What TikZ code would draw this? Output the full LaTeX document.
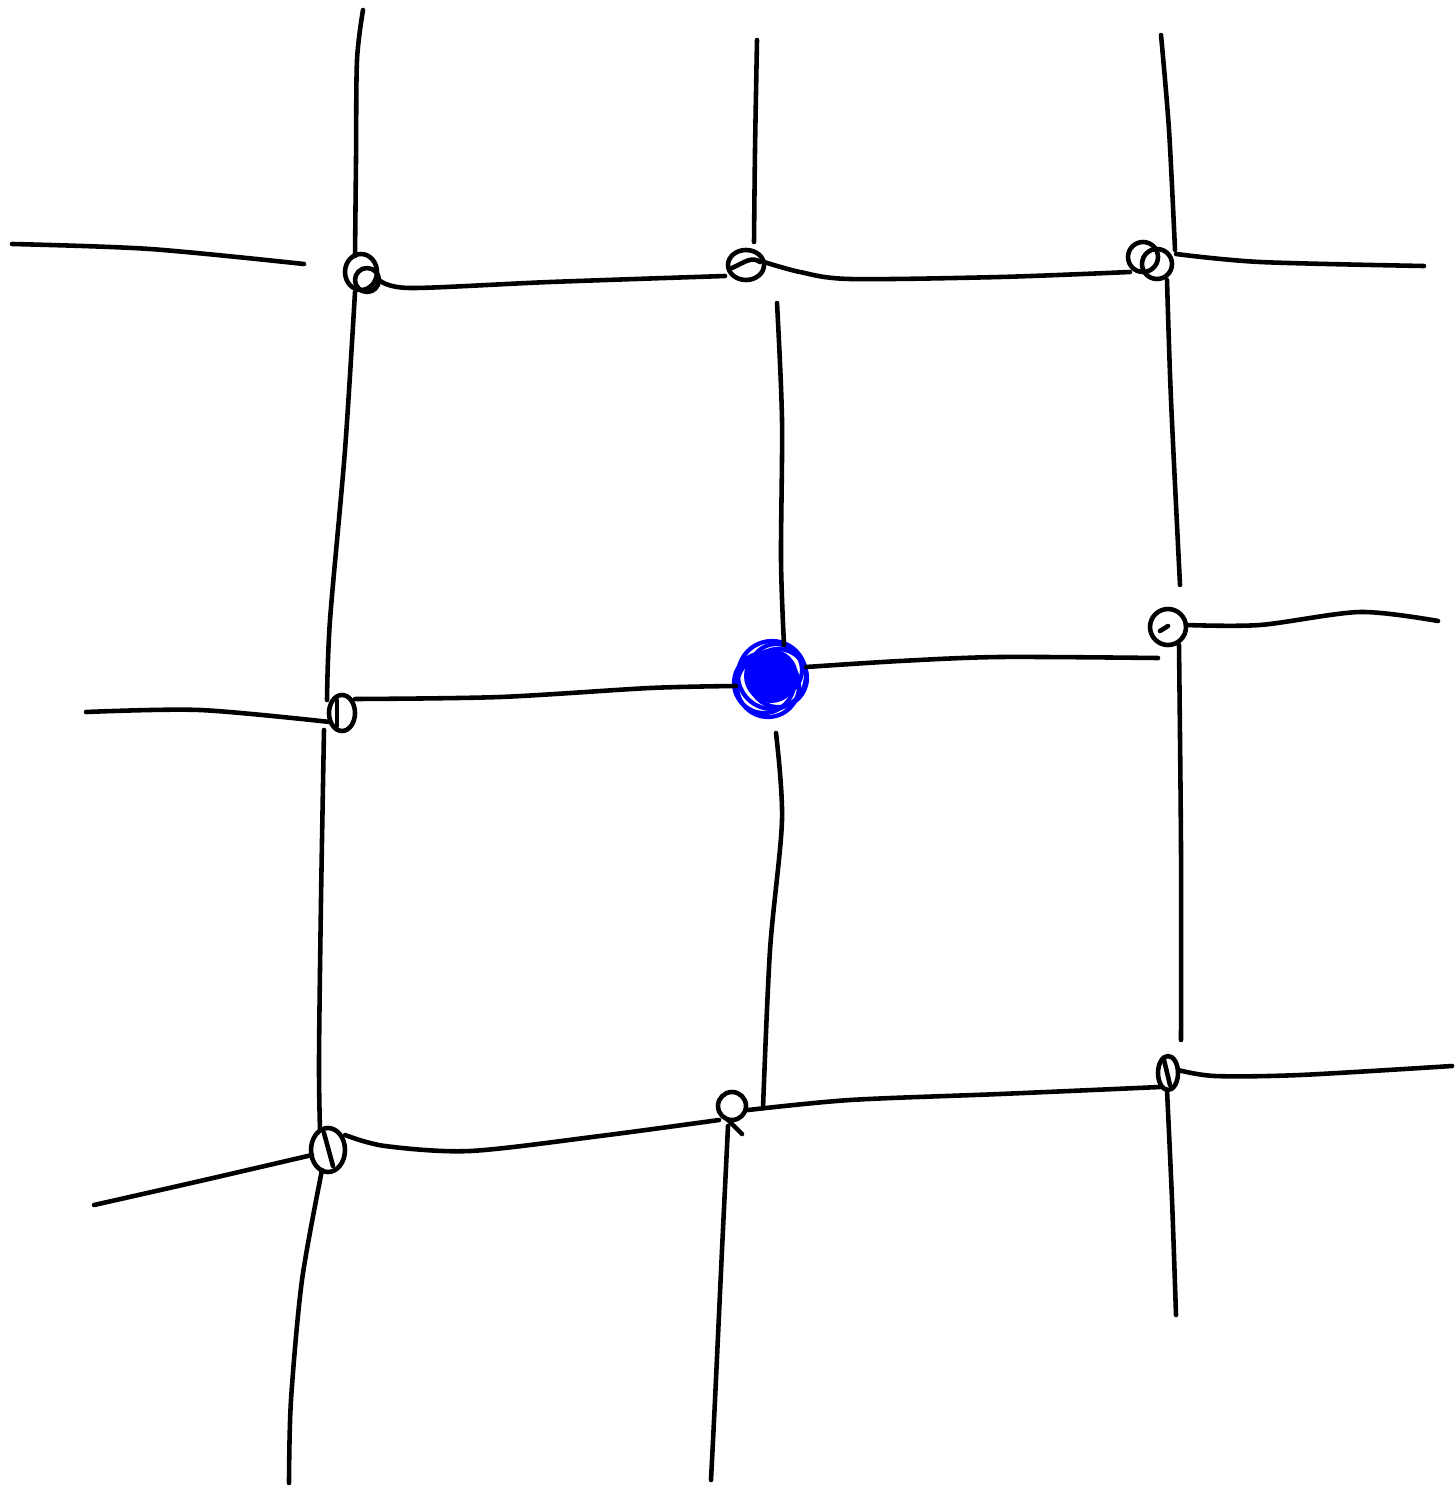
\documentclass[tikz,border=0pt]{standalone}
\begin{document}
\begin{tikzpicture}[x=0.01cm,y=-0.01cm,
  strand/.style={line width=1.3pt,line cap=round,line join=round},
  scrib/.style={draw=blue,line width=1.2pt}]
\useasboundingbox (0,0) rectangle (1454,1491);
% knots (intersections)
\coordinate (A1) at (361,272);
\coordinate (A2) at (746,265);
\coordinate (A3) at (1152,260);
\coordinate (B1) at (342,713);
\coordinate (B2) at (770,677);
\coordinate (B3) at (1168,627);
\coordinate (C1) at (328,1150);
\coordinate (C2) at (732,1106);
\coordinate (C3) at (1168,1073);
% knot loops
\draw[strand] (A1) ellipse (16 and 18);
\draw[strand] (367,280) circle (12);
\draw[strand] (A2) ellipse (18 and 15);
\draw[strand] (732,268) .. controls (745,262) and (752,256) .. (760,262);
\draw[strand] (1143,257) circle (15);
\draw[strand] (1157,264) circle (15);
\draw[strand] (B1) ellipse (13 and 18);
\draw[strand] (337,700) -- (337,726);
\draw[strand] (B3) circle (18);
\draw[strand] (1160,631) -- (1168,626);
\draw[strand] (C1) ellipse (17 and 22);
\draw[strand] (324,1133) -- (333,1166);
\draw[strand] (C2) circle (14);
\draw[strand] (728,1120) -- (742,1134);
\draw[strand] (C3) ellipse (10 and 17);
\draw[strand] (1164,1060) -- (1170,1085);
% blue knot
\fill[blue] (771,676) circle (27);
\draw[scrib] (772,675) circle (34);
\draw[scrib] (764,683) circle (30);
\draw[scrib] (776,670) circle (26);
\draw[scrib] (768,686) circle (31);
\draw[scrib] (778,678) circle (29);
% top verticals
\draw[strand] plot[smooth] coordinates {(363,10) (357,60) (356,160) (355,256)};
\draw[strand] plot[smooth] coordinates {(757,40) (755,150) (754,242)};
\draw[strand] plot[smooth] coordinates {(1161,35) (1169,130) (1175,250)};
% top horizontals
\draw[strand] plot[smooth] coordinates {(12,244) (150,249) (304,264)};
\draw[strand] plot[smooth] coordinates {(379,280) (410,288) (550,282) (725,276)};
\draw[strand] plot[smooth] coordinates {(764,262) (800,272) (850,279) (1000,277) (1130,272)};
\draw[strand] plot[smooth] coordinates {(1176,254) (1260,262) (1424,266)};
% top-to-middle verticals
\draw[strand] plot[smooth] coordinates {(355,292) (345,450) (330,620) (327,700)};
\draw[strand] plot[smooth] coordinates {(777,303) (782,420) (781,560) (784,645)};
\draw[strand] plot[smooth] coordinates {(1167,280) (1171,400) (1180,585)};
% middle horizontals
\draw[strand] plot[smooth] coordinates {(86,712) (200,710) (330,722)};
\draw[strand] plot[smooth] coordinates {(355,699) (500,697) (650,688) (736,686)};
\draw[strand] plot[smooth] coordinates {(806,667) (900,661) (1000,657) (1158,658)};
\draw[strand] plot[smooth] coordinates {(1186,625) (1260,625) (1360,612) (1438,621)};
% middle-to-bottom verticals
\draw[strand] plot[smooth] coordinates {(324,730) (321,900) (319,1060) (320,1130)};
\draw[strand] plot[smooth] coordinates {(776,733) (782,820) (770,950) (763,1108)};
\draw[strand] plot[smooth] coordinates {(1179,645) (1181,850) (1181,1040)};
% bottom horizontals
\draw[strand] plot[smooth] coordinates {(94,1205) (200,1181) (312,1155)};
\draw[strand] plot[smooth] coordinates {(345,1135) (385,1146) (470,1151) (600,1136) (719,1120)};
\draw[strand] plot[smooth] coordinates {(748,1110) (850,1100) (1000,1094) (1160,1087)};
\draw[strand] plot[smooth] coordinates {(1178,1070) (1215,1076) (1300,1075) (1452,1066)};
% bottom verticals
\draw[strand] plot[smooth] coordinates {(322,1170) (302,1280) (291,1400) (289,1483)};
\draw[strand] plot[smooth] coordinates {(728,1126) (722,1250) (715,1400) (711,1480)};
\draw[strand] plot[smooth] coordinates {(1167,1090) (1172,1200) (1176,1315)};
\end{tikzpicture}
\end{document}
